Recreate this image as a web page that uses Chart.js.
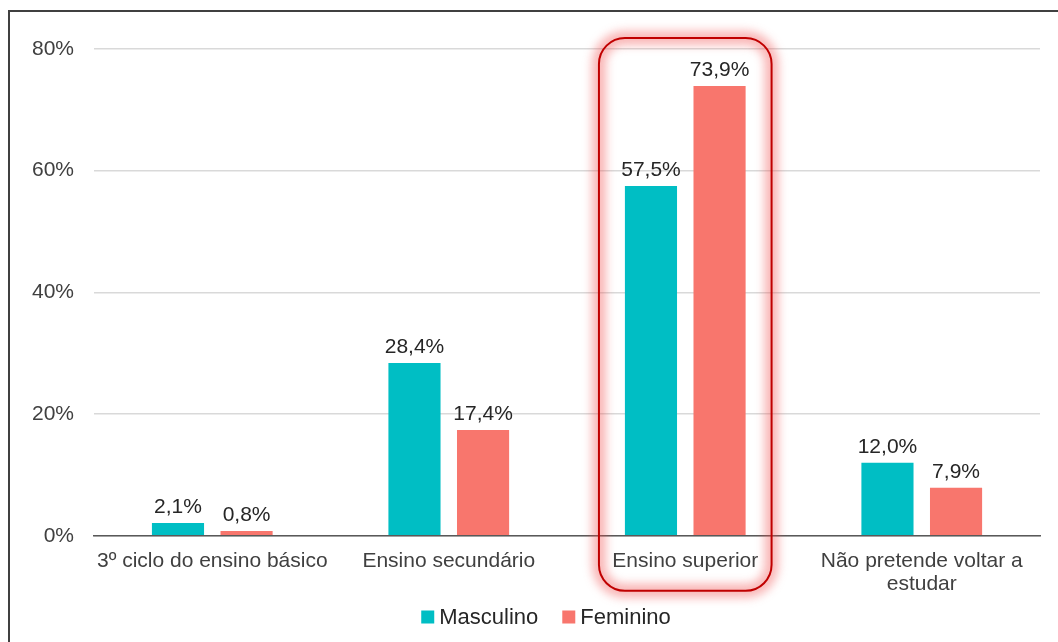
<!DOCTYPE html>
<html>
<head>
<meta charset="utf-8">
<script src="https://cdn.jsdelivr.net/npm/chart.js@4/dist/chart.umd.min.js"></script>
<style>
    html, body { margin: 0; padding: 0; background: #fff; }
    .wrap { position: relative; width: 1058px; height: 642px; }
    .frame {
        position: absolute; left: 8px; top: 10px; right: 0; bottom: 0;
        border-top: 2px solid #404040; border-left: 2px solid #404040;
        pointer-events: none;
    }
    canvas { position: absolute; left: 0; top: 0; }
</style>
</head>
<body>
<div class="wrap">
    <canvas id="chart" width="1058" height="642"></canvas>
    <div class="frame"></div>
</div>
<script>
// Categorias e valores (%)
const categories = [
    '3º ciclo do ensino básico',
    'Ensino secundário',
    'Ensino superior',
    ['Não pretende voltar a', 'estudar']
];
const masculino = [2.1, 28.4, 57.5, 12.0];
const feminino = [0.8, 17.4, 73.9, 7.9];
const yTicks = [0, 20, 40, 60, 80];
const highlightIndex = 2;

const FONT = "'Liberation Sans', Arial, sans-serif";

// Valores por cima das barras, com vírgula decimal
const valueLabels = {
    id: 'valueLabels',
    afterDatasetsDraw(chart) {
        const ctx = chart.ctx;
        ctx.save();
        ctx.font = '21px ' + FONT;
        ctx.fillStyle = '#262626';
        ctx.textAlign = 'center';
        ctx.textBaseline = 'alphabetic';
        chart.data.datasets.forEach((ds, i) => {
            chart.getDatasetMeta(i).data.forEach((bar, j) => {
                const txt = ds.data[j].toFixed(1).replace('.', ',') + '%';
                ctx.fillText(txt, bar.x, bar.y - 10);
            });
        });
        ctx.restore();
    }
};

// Caixa vermelha em volta da categoria destacada
const highlightBox = {
    id: 'highlightBox',
    afterDraw(chart) {
        const { ctx, chartArea, scales } = chart;
        const x = scales.x;
        const cx = x.getPixelForValue(highlightIndex);
        const half = (x.getPixelForValue(1) - x.getPixelForValue(0)) * 0.365;
        const left = cx - half, right = cx + half;
        const top = chartArea.top - 11, bottom = chartArea.bottom + 55;
        ctx.save();
        ctx.beginPath();
        ctx.roundRect(left, top, right - left, bottom - top, 26);
        ctx.strokeStyle = 'rgba(240,70,70,0.4)';
        ctx.lineWidth = 14;
        ctx.filter = 'blur(5px)';
        ctx.stroke();
        ctx.filter = 'none';
        ctx.strokeStyle = '#C00000';
        ctx.lineWidth = 2;
        ctx.stroke();
        ctx.restore();
    }
};

// Legenda em baixo, desenhada à mão para controlar o espaçamento
const bottomLegend = {
    id: 'bottomLegend',
    afterDraw(chart) {
        const ctx = chart.ctx;
        const box = 13, gapText = 5, gapItem = 24;
        const y = 617;
        ctx.save();
        ctx.font = '22px ' + FONT;
        ctx.textBaseline = 'middle';
        const items = chart.data.datasets.map(ds => ({
            text: ds.label, color: ds.backgroundColor, w: ctx.measureText(ds.label).width
        }));
        const total = items.reduce((a, it) => a + box + gapText + it.w, 0) + gapItem * (items.length - 1);
        let x = chart.width / 2 + 17 - total / 2;
        items.forEach(it => {
            ctx.fillStyle = it.color;
            ctx.fillRect(x, y - box / 2, box, box);
            x += box + gapText;
            ctx.fillStyle = '#262626';
            ctx.fillText(it.text, x, y + 1);
            x += it.w + gapItem;
        });
        ctx.restore();
    }
};

new Chart(document.getElementById('chart'), {
    type: 'bar',
    data: {
        labels: categories,
        datasets: [
            { label: 'Masculino', data: masculino, backgroundColor: '#00BEC4', categoryPercentage: 0.58, barPercentage: 0.76 },
            { label: 'Feminino', data: feminino, backgroundColor: '#F8766D', categoryPercentage: 0.58, barPercentage: 0.76 }
        ]
    },
    options: {
        responsive: false,
        animation: false,
        layout: { padding: { left: 12, right: 18, top: 49, bottom: 40 } },
        plugins: {
            legend: { display: false },
            tooltip: { enabled: false }
        },
        scales: {
            x: {
                grid: { display: false },
                border: { color: '#595959', width: 1.5 },
                ticks: { color: '#404040', font: { family: FONT, size: 21, lineHeight: 1.1 }, padding: 6, maxRotation: 0, autoSkip: false }
            },
            y: {
                min: 0, max: 80,
                afterBuildTicks(axis) { axis.ticks = yTicks.map(v => ({ value: v })); },
                grid: { color: '#D9D9D9', lineWidth: 1.5, drawTicks: false },
                border: { display: false },
                ticks: { color: '#404040', font: { family: FONT, size: 21 }, padding: 20, callback: v => v + '%' }
            }
        }
    },
    plugins: [valueLabels, highlightBox, bottomLegend]
});
</script>
</body>
</html>
